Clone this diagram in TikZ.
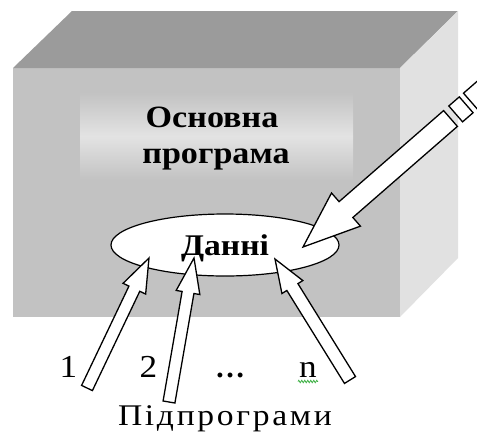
\documentclass[tikz,border=0pt]{standalone}
\usepackage{fontspec}
\setmainfont{Liberation Serif}
\usetikzlibrary{calc,decorations.pathmorphing}
\definecolor{topface}{HTML}{9B9B9B}
\definecolor{frontface}{HTML}{C2C2C2}
\definecolor{sideface}{HTML}{E1E1E1}
\definecolor{panelmid}{HTML}{E3E3E3}
\definecolor{spellgreen}{HTML}{3CB043}
\tikzset{
  barrow/.style={draw=black, fill=white, line width=1.3pt, line join=miter},
  bigtext/.style={font=\bfseries\fontsize{31}{36}\selectfont, inner sep=0pt},
  numtext/.style={font=\fontsize{32}{36}\selectfont, inner sep=0pt},
}
\newcommand\wide[2]{\scalebox{#1}[1]{#2}}
\newcommand\blockarrow[5]{%
  \coordinate (#1-#2-b) at ($(#2)!#5!(#1)$);
  \draw[barrow] ($(#1)!#3!90:(#2)$) -- ($(#1-#2-b)!#3!-90:(#1)$) -- ($(#1-#2-b)!#4!-90:(#1)$) -- (#2)
    -- ($(#1-#2-b)!#4!90:(#1)$) -- ($(#1-#2-b)!#3!90:(#1)$) -- ($(#1)!#3!-90:(#2)$) -- cycle;
}
\newcommand\shaftseg[3]{%
  \draw[barrow] ($(#1)!#3!90:(#2)$) -- ($(#2)!#3!-90:(#1)$) -- ($(#2)!#3!90:(#1)$) -- ($(#1)!#3!-90:(#2)$) -- cycle;
}
\begin{document}
\begin{tikzpicture}[x=1pt,y=-1pt]
\useasboundingbox (0,0) rectangle (477,432);
\clip (0,0) rectangle (477,432);
\fill[white] (0,0) rectangle (477,432);
% box
\fill[frontface] (13,68) rectangle (400,317);
\fill[topface] (13,68) -- (72,11) -- (458,11) -- (400,68) -- cycle;
\fill[sideface] (400,68) -- (458,11) -- (458,258) -- (400,317) -- cycle;
% inner gradient panel
\shade[top color=frontface, bottom color=frontface, middle color=panelmid] (80,92) rectangle (353,180);
\node[bigtext, anchor=base] (l1) at (212,127) {\wide{1.1}{Основна}};
\node[bigtext, anchor=base] (l2) at (216,163) {\wide{1.1}{програма}};
% data ellipse
\draw[line width=1.2pt, fill=white] (225,245) ellipse [x radius=114, y radius=31];
\node[font=\bfseries\fontsize{30}{32}\selectfont, inner sep=0pt, anchor=base] (data) at (225,255) {\wide{1.12}{Данні}};
% labels
\node[numtext, anchor=base] (n1) at (68.5,377) {\wide{1.1}{1}};
\node[numtext, anchor=base] (n2) at (148.5,377) {\wide{1.1}{2}};
\node[font=\bfseries\fontsize{30}{34}\selectfont, inner sep=0pt, anchor=base] (dots) at (230,377) {…};
\node[numtext, anchor=base] (nn) at (308,377) {\wide{1.1}{n}};
\draw[spellgreen, line width=0.8pt, decorate, decoration={zigzag, amplitude=1.2pt, segment length=3pt}] (298,381.5) -- (318,381.5);
\node[font=\fontsize{30}{32}\selectfont, inner sep=0pt, anchor=base] (sub) at (225,425) {\wide{1.12}{\addfontfeature{LetterSpace=8}Підпрограми}};
% arrow coordinates
\coordinate (t1) at (87,388);   \coordinate (h1) at (149,258);
\coordinate (t2) at (169,402);  \coordinate (h2) at (194,258);
\coordinate (tn) at (350,380);  \coordinate (hn) at (275,259);
\coordinate (tb) at (450.5,118.5); \coordinate (hb) at (303,247);
\coordinate (s1a) at (455.7,113.9); \coordinate (s1b) at (466.2,104.8);
\coordinate (s2a) at (470.4,101.1); \coordinate (s2b) at (490,84);
\blockarrow{t1}{h1}{6pt}{12.5pt}{34pt}
\blockarrow{t2}{h2}{6pt}{12pt}{35pt}
\blockarrow{tn}{hn}{6.5pt}{12.3pt}{33pt}
\blockarrow{tb}{hb}{10.5pt}{22pt}{57pt}
\shaftseg{s1a}{s1b}{10.5pt}
\shaftseg{s2a}{s2b}{10.5pt}
\end{tikzpicture}
\end{document}
